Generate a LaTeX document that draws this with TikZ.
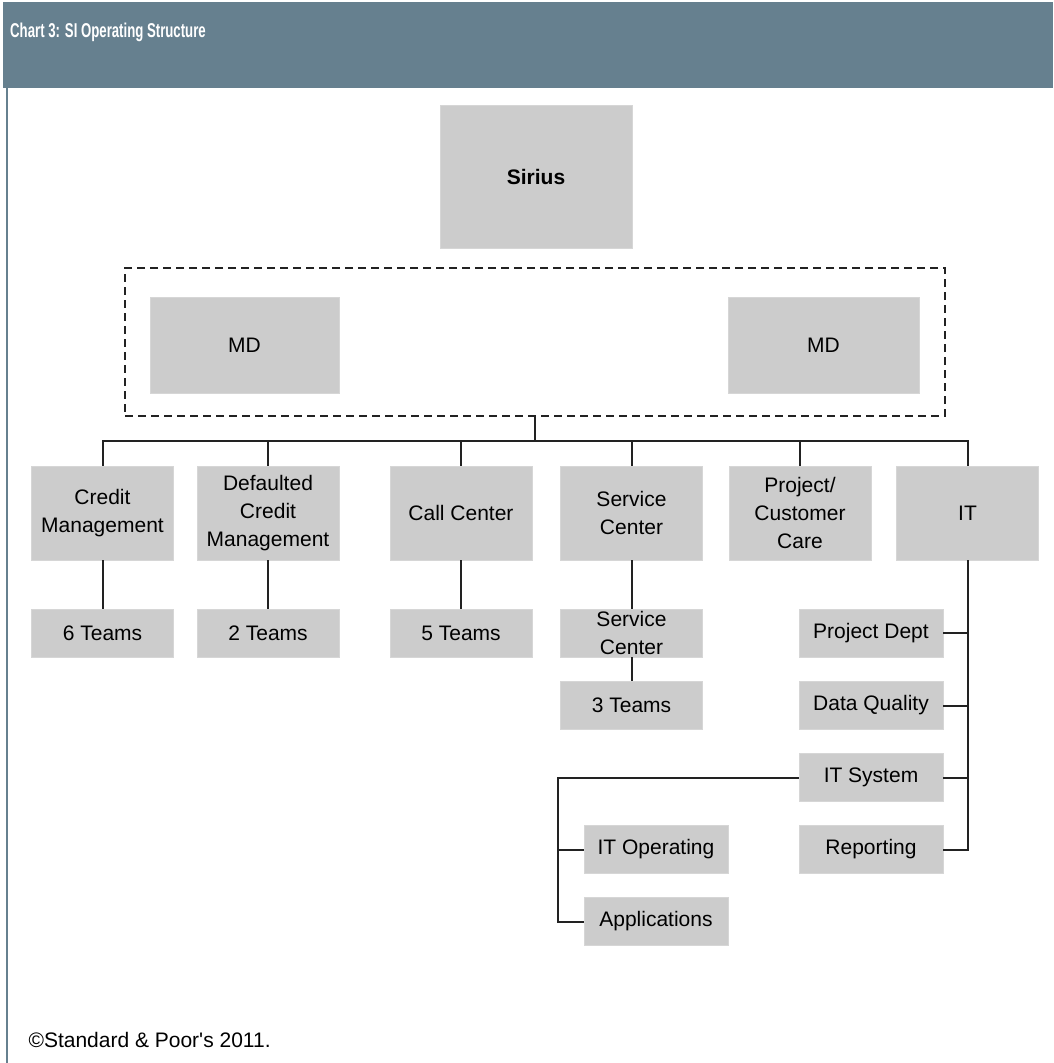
\documentclass[tikz,border=0pt]{standalone}
\usepackage{fontspec}
\setmainfont{Liberation Sans}
\definecolor{headblue}{HTML}{66808F}
\definecolor{boxgrey}{HTML}{CCCCCC}
\definecolor{linegrey}{HTML}{222222}

\begin{document}
\begin{tikzpicture}[x=1pt, y=-1pt,
  unit/.style={fill=boxgrey, draw=boxgrey!80!white, line width=0.6pt, inner sep=0pt,
    minimum width=142, align=center, font=\fontsize{21}{28}\selectfont},
  bigunit/.style={unit, minimum height=94},
  smallunit/.style={unit, minimum height=48},
  itunit/.style={unit, minimum width=144, minimum height=48},
  link/.style={draw=linegrey, line width=2pt},
  group/.style={draw=linegrey, line width=2pt, dash pattern=on 8pt off 5pt},
]
  \useasboundingbox (0,0) rectangle (1053,1063);
  % frame
  \fill[headblue] (3,2) rectangle (1053,88);
  \draw[headblue, line width=2pt] (7,88) -- (7,1063);
  \node[anchor=west, inner sep=0pt, text=white, font=\fontsize{20}{24}\selectfont\bfseries] (title) at (10,32)
    {\scalebox{0.66}[1]{Chart 3: SI Operating Structure}};
  % top
  \node[unit, minimum width=192, minimum height=143, font=\fontsize{21}{28}\selectfont\bfseries] (sirius) at (536,176.5) {Sirius};
  \node[group, minimum width=820, minimum height=148] (mdgroup) at (535,342) {};
  \node[unit, minimum width=189, minimum height=96] (mdleft) at (244.5,345) {MD};
  \node[unit, minimum width=191, minimum height=96] (mdright) at (823.5,345) {MD};
  % departments
  \node[bigunit] (credit) at (102.5,513) {Credit\\Management};
  \node[bigunit] (defaulted) at (268,513) {Defaulted\\Credit\\Management};
  \node[bigunit] (call) at (461,513) {Call Center};
  \node[bigunit] (service) at (631.5,513) {Service\\Center};
  \node[bigunit] (project) at (800,513) {Project/\\Customer\\Care};
  \node[bigunit] (it) at (967.5,513) {IT};
  % teams
  \node[smallunit] (teamssix) at (102.5,633) {6 Teams};
  \node[smallunit] (teamstwo) at (268,633) {2 Teams};
  \node[smallunit] (teamsfive) at (461,633) {5 Teams};
  \node[smallunit] (servicesub) at (631.5,633) {Service\\Center};
  \node[smallunit] (teamsthree) at (631.5,705.5) {3 Teams};
  % IT units
  \node[itunit] (projdept) at (871,633) {Project Dept};
  \node[itunit] (dataq) at (871,705.5) {Data Quality};
  \node[itunit] (itsys) at (871,777.5) {IT System};
  \node[itunit] (report) at (871,849.5) {Reporting};
  \node[itunit] (itop) at (656,849.5) {IT Operating};
  \node[itunit] (apps) at (656,921.5) {Applications};
  % connectors
  \coordinate (bus) at (535,441);
  \coordinate (itspine) at (558,777.5);
  \draw[link] (mdgroup.south) -- (bus);
  \draw[link] (credit.north) -- (credit.north |- bus) -- (it.north |- bus) -- (it.north);
  \foreach \dept in {defaulted, call, service, project}
    \draw[link] (\dept.north) -- (\dept.north |- bus);
  \draw[link] (credit) -- (teamssix);
  \draw[link] (defaulted) -- (teamstwo);
  \draw[link] (call) -- (teamsfive);
  \draw[link] (service) -- (servicesub);
  \draw[link] (servicesub) -- (teamsthree);
  \draw[link] (it.south) -- (it.south |- report.east) -- (report.east);
  \foreach \sub in {projdept, dataq, itsys}
    \draw[link] (\sub.east) -- (\sub.east -| it.south);
  \draw[link] (itsys.west) -- (itspine) |- (apps.west);
  \draw[link] (itop.west) -- (itop.west -| itspine);
  % source
  \node[anchor=west, font=\fontsize{21}{26}\selectfont] (source) at (25,1040) {\textcopyright Standard \& Poor\textquotesingle s 2011.};
\end{tikzpicture}
\end{document}
